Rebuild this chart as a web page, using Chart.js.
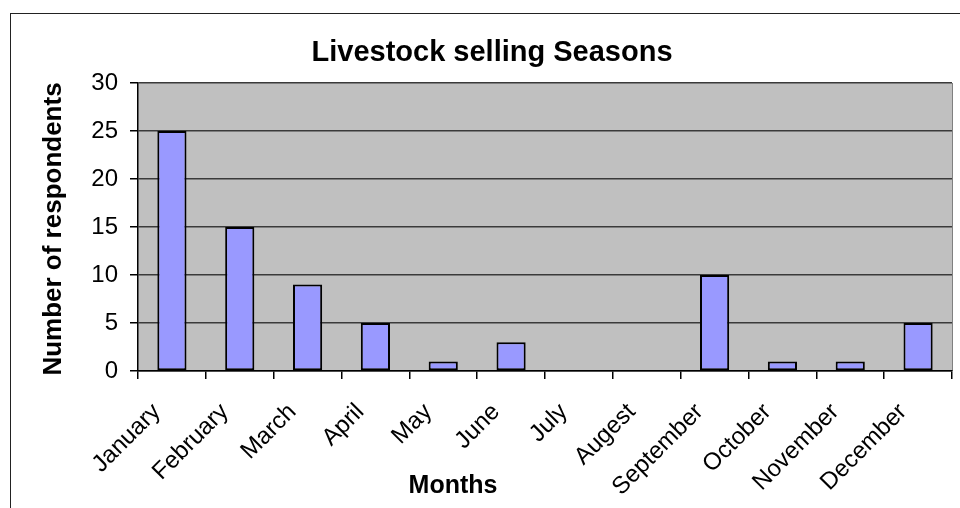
<!DOCTYPE html>
<html>
<head>
<meta charset="utf-8">
<script src="https://cdn.jsdelivr.net/npm/chart.js@4/dist/chart.umd.min.js"></script>
<style>
  html, body { margin: 0; padding: 0; background: #fff; }
  #wrap { width: 960px; height: 508px; position: relative; }
</style>
</head>
<body>
<div id="wrap"><canvas id="chart" width="960" height="508"></canvas></div>
<script>
// Chart data
const months = ['January', 'February', 'March', 'April', 'May', 'June', 'July',
                'Augest', 'September', 'October', 'November', 'December'];
const respondents = [25, 15, 9, 5, 1, 3, 0, 0, 10, 1, 1, 5];
const yTicks = [0, 5, 10, 15, 20, 25, 30];

const chartTitle = 'Livestock selling Seasons';
const xTitle = 'Months';
const yTitle = 'Number of respondents';

const FONT = '"Liberation Sans", Arial, sans-serif';

// Excel-like frame, grey plot area and titles
const excelLook = {
    id: 'excelLook',
    beforeDraw(chart) {
        const { ctx, chartArea: a } = chart;
        ctx.save();
        ctx.fillStyle = '#c0c0c0';
        ctx.fillRect(a.left, a.top, a.right - a.left, a.bottom - a.top);
        ctx.strokeStyle = '#808080';
        ctx.lineWidth = 1;
        ctx.beginPath();
        ctx.moveTo(Math.round(a.right) + 0.5, a.top);
        ctx.lineTo(Math.round(a.right) + 0.5, a.bottom);
        ctx.stroke();
        // outer chart frame
        ctx.strokeStyle = '#222';
        ctx.strokeRect(10.5, 13.5, 1000, 600);
        ctx.restore();
    },
    afterDraw(chart) {
        const { ctx } = chart;
        ctx.save();
        ctx.fillStyle = '#000';
        ctx.textAlign = 'center';
        ctx.textBaseline = 'alphabetic';
        ctx.font = 'bold 29px ' + FONT;
        ctx.fillText(chartTitle, 492, 61);
        ctx.font = 'bold 25px ' + FONT;
        ctx.fillText(xTitle, 453, 493);
        ctx.font = 'bold 26px ' + FONT;
        ctx.translate(61, 229);
        ctx.rotate(-Math.PI / 2);
        ctx.fillText(yTitle, 0, 0);
        ctx.restore();
    }
};

new Chart(document.getElementById('chart'), {
    type: 'bar',
    data: {
        labels: months,
        datasets: [{
            label: yTitle,
            data: respondents,
            backgroundColor: '#9999ff',
            borderColor: '#000',
            borderWidth: 2,
            borderSkipped: false,
            barPercentage: 0.43,
            categoryPercentage: 1
        }]
    },
    options: {
        responsive: false,
        animation: false,
        devicePixelRatio: 1,
        layout: { padding: { left: 0, right: 8, top: 83, bottom: 0 } },
        plugins: {
            legend: { display: false },
            tooltip: { enabled: false }
        },
        scales: {
            x: {
                afterFit(scale) { scale.height = 137; },
                grid: {
                    drawOnChartArea: false,
                    drawTicks: true,
                    tickLength: 8,
                    color: '#000',
                    lineWidth: 1.5
                },
                border: { color: '#000', width: 1.5 },
                ticks: {
                    color: '#000',
                    font: { family: FONT, size: 24 },
                    minRotation: 45,
                    maxRotation: 45,
                    padding: 19,
                    labelOffset: -15,
                    autoSkip: false
                }
            },
            y: {
                min: 0,
                max: 30,
                afterFit(scale) { scale.width = 138; },
                afterBuildTicks(scale) {
                    scale.ticks = yTicks.map(v => ({ value: v }));
                },
                grid: {
                    color: '#3a3a3a',
                    lineWidth: 1.5,
                    tickLength: 8,
                    tickColor: '#000'
                },
                border: { color: '#000', width: 1.5 },
                ticks: {
                    color: '#000',
                    font: { family: FONT, size: 24 },
                    padding: 12
                }
            }
        }
    },
    plugins: [excelLook]
});
</script>
</body>
</html>
